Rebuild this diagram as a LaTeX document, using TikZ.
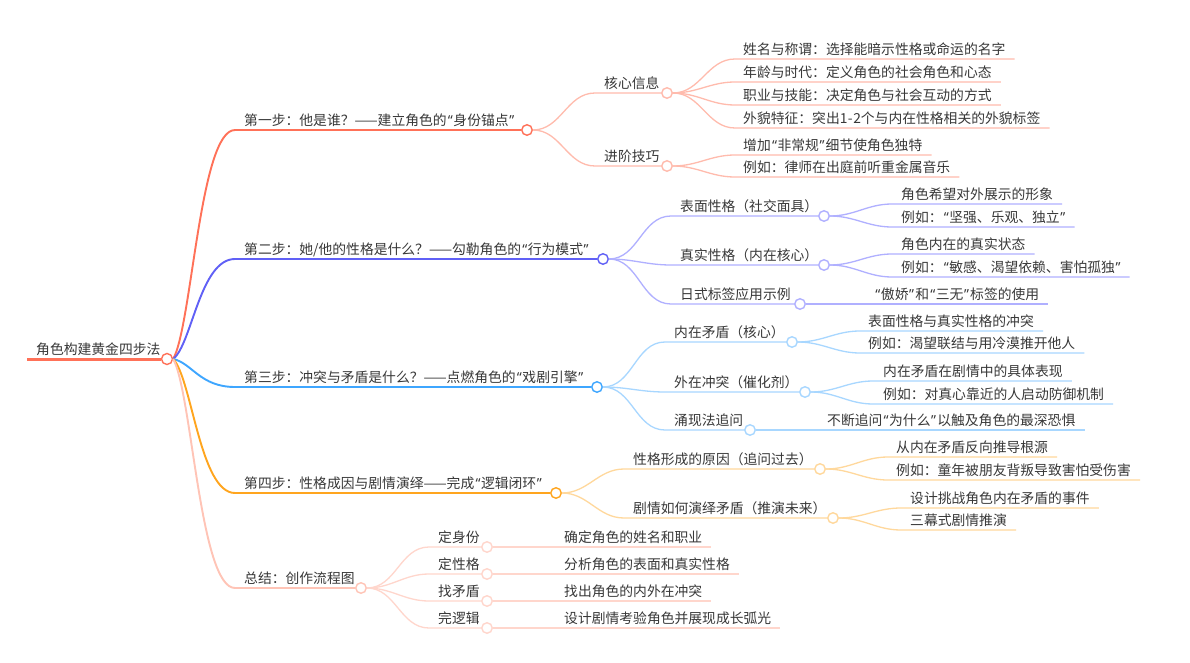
\documentclass[tikz,border=0pt]{standalone}
\usepackage{fontspec}
\setmainfont{Noto Sans CJK SC}
\newfontfamily\latinq{Noto Sans}
\newcommand\myoq{\hspace{1.2pt}{\latinq “}\hspace{0.6pt}}
\newcommand\mycq{\hspace{0.6pt}{\latinq ”}\hspace{1.2pt}}
\usetikzlibrary{calc}
\definecolor{c1}{HTML}{FF7158}
\definecolor{c1l}{HTML}{FFBBAD}
\definecolor{c2}{HTML}{6060F6}
\definecolor{c2l}{HTML}{B0B0FF}
\definecolor{c3}{HTML}{3EA6FF}
\definecolor{c3l}{HTML}{A8D7FF}
\definecolor{c4}{HTML}{FFA51E}
\definecolor{c4l}{HTML}{FFD89C}
\definecolor{c5}{HTML}{FFC4B6}
\definecolor{c5l}{HTML}{FFD6CC}
\definecolor{txt}{HTML}{383838}
\begin{document}
\begin{tikzpicture}[x=1pt,y=-1pt,
  lbl/.style={anchor=base west, inner sep=0, text=txt, font=\fontsize{13.8}{16}\selectfont},
  dot/.style={circle, draw=#1, fill=white, line width=1.4pt, minimum size=10.5pt, inner sep=0},
  main/.style={line width=1.9pt, draw=#1},
  sub/.style={line width=1.3pt, draw=#1},
  sc/.style={out=0, in=180, looseness=1}
]
\useasboundingbox[fill=white] (0,0) rectangle (1190,663);

% ---------- root ----------
\coordinate (r-s) at (27,359);
\node[lbl] (r-t) at (36,354.3) {角色构建黄金四步法};

% ---------- level 1 ----------
\coordinate (b1-s) at (235,130);
\coordinate (b2-s) at (235,259);
\coordinate (b3-s) at (235,387);
\coordinate (b4-s) at (235,493);
\coordinate (b5-s) at (235,588);
\node[lbl] (b1-t) at (244,125.3) {第一步：他是谁？——建立角色的\myoq 身份锚点\mycq};
\node[lbl] (b2-t) at (244,254.3) {第二步：她/他的性格是什么？——勾勒角色的\myoq 行为模式\mycq};
\node[lbl] (b3-t) at (244,382.3) {第三步：冲突与矛盾是什么？——点燃角色的\myoq 戏剧引擎\mycq};
\node[lbl] (b4-t) at (244,488.3) {第四步：性格成因与剧情演绎——完成\myoq 逻辑闭环\mycq};
\node[lbl] (b5-t) at (244,583.3) {总结：创作流程图};

% ---------- level 2 ----------
\coordinate (k1-s) at (595,93);
\coordinate (k2-s) at (595,166);
\node[lbl] (k1-t) at (604,88.3) {核心信息};
\node[lbl] (k2-t) at (604,161.3) {进阶技巧};
\coordinate (s1-s) at (671,216);
\coordinate (s2-s) at (671,265);
\coordinate (s3-s) at (671,304);
\node[lbl] (s1-t) at (680,211.3) {表面性格（社交面具）};
\node[lbl] (s2-t) at (680,260.3) {真实性格（内在核心）};
\node[lbl] (s3-t) at (680,299.3) {日式标签应用示例};
\coordinate (m1-s) at (665,342);
\coordinate (m2-s) at (665,392);
\coordinate (m3-s) at (665,430);
\node[lbl] (m1-t) at (674,337.3) {内在矛盾（核心）};
\node[lbl] (m2-t) at (674,387.3) {外在冲突（催化剂）};
\node[lbl] (m3-t) at (674,425.3) {涌现法追问};
\coordinate (f1-s) at (624,469);
\coordinate (f2-s) at (624,518);
\node[lbl] (f1-t) at (633,464.3) {性格形成的原因（追问过去）};
\node[lbl] (f2-t) at (633,513.3) {剧情如何演绎矛盾（推演未来）};
\coordinate (z1-s) at (429,547);
\coordinate (z2-s) at (429,574);
\coordinate (z3-s) at (429,601);
\coordinate (z4-s) at (429,628);
\node[lbl] (z1-t) at (438,542.3) {定身份};
\node[lbl] (z2-t) at (438,569.3) {定性格};
\node[lbl] (z3-t) at (438,596.3) {找矛盾};
\node[lbl] (z4-t) at (438,623.3) {完逻辑};

% ---------- leaves ----------
\coordinate (k1a-s) at (735,59);
\coordinate (k1b-s) at (735,82);
\coordinate (k1c-s) at (735,105);
\coordinate (k1d-s) at (735,128);
\node[lbl] (k1a) at (743,54.3) {姓名与称谓：选择能暗示性格或命运的名字};
\node[lbl] (k1b) at (743,77.3) {年龄与时代：定义角色的社会角色和心态};
\node[lbl] (k1c) at (743,100.3) {职业与技能：决定角色与社会互动的方式};
\node[lbl] (k1d) at (743,123.3) {外貌特征：突出1{\hspace{0.5pt}}-{\hspace{0.5pt}}2个与内在性格相关的外貌标签};
\coordinate (k2a-s) at (735,155);
\coordinate (k2b-s) at (735,177);
\node[lbl] (k2a) at (743,150.3) {增加\myoq 非常规\mycq 细节使角色独特};
\node[lbl] (k2b) at (743,172.3) {例如：律师在出庭前听重金属音乐};

\coordinate (s1a-s) at (892,204);
\coordinate (s1b-s) at (892,227);
\node[lbl] (s1a) at (901,199.3) {角色希望对外展示的形象};
\node[lbl] (s1b) at (901,222.3) {例如：\myoq 坚强、乐观、独立\mycq};
\coordinate (s2a-s) at (892,254);
\coordinate (s2b-s) at (892,277);
\node[lbl] (s2a) at (901,249.3) {角色内在的真实状态};
\node[lbl] (s2b) at (901,272.3) {例如：\myoq 敏感、渴望依赖、害怕孤独\mycq};
\node[lbl] (s3a) at (874,299.3) {\myoq 傲娇\mycq 和\myoq 三无\mycq 标签的使用};

\coordinate (m1a-s) at (860,331);
\coordinate (m1b-s) at (860,353);
\node[lbl] (m1a) at (868,326.3) {表面性格与真实性格的冲突};
\node[lbl] (m1b) at (868,348.3) {例如：渴望联结与用冷漠推开他人};
\coordinate (m2a-s) at (873,381);
\coordinate (m2b-s) at (873,404);
\node[lbl] (m2a) at (883,376.3) {内在矛盾在剧情中的具体表现};
\node[lbl] (m2b) at (883,399.3) {例如：对真心靠近的人启动防御机制};
\node[lbl] (m3a) at (827,425.3) {不断追问\myoq 为什么\mycq 以触及角色的最深恐惧};

\coordinate (f1a-s) at (888,457);
\coordinate (f1b-s) at (888,480);
\node[lbl] (f1a) at (896,452.3) {从内在矛盾反向推导根源};
\node[lbl] (f1b) at (896,475.3) {例如：童年被朋友背叛导致害怕受伤害};
\coordinate (f2a-s) at (901,508);
\coordinate (f2b-s) at (901,530);
\node[lbl] (f2a) at (910,503.3) {设计挑战角色内在矛盾的事件};
\node[lbl] (f2b) at (910,525.3) {三幕式剧情推演};

\node[lbl] (z1a) at (564,542.3) {确定角色的姓名和职业};
\node[lbl] (z2a) at (564,569.3) {分析角色的表面和真实性格};
\node[lbl] (z3a) at (564,596.3) {找出角色的内外在冲突};
\node[lbl] (z4a) at (564,623.3) {设计剧情考验角色并展现成长弧光};

% ---------- circles (nodes) ----------
\node[dot=c1, minimum size=11pt] (r) at (167,359) {};
\node[dot=c1] (b1) at (527,130) {};
\node[dot=c2] (b2) at (603,259) {};
\node[dot=c3] (b3) at (597,387) {};
\node[dot=c4] (b4) at (556,493) {};
\node[dot=c5] (b5) at (361,588) {};
\node[dot=c1l] (k1) at (667,93) {};
\node[dot=c1l] (k2) at (667,166) {};
\node[dot=c2l] (s1) at (824,216) {};
\node[dot=c2l] (s2) at (824,265) {};
\node[dot=c2l] (s3) at (800,304) {};
\node[dot=c3l] (m1) at (792,342) {};
\node[dot=c3l] (m2) at (805,392) {};
\node[dot=c3l] (m3) at (750,430) {};
\node[dot=c4l] (f1) at (820,469) {};
\node[dot=c4l] (f2) at (833,518) {};
\node[dot=c5l] (z1) at (487,547) {};
\node[dot=c5l] (z2) at (487,574) {};
\node[dot=c5l] (z3) at (487,601) {};
\node[dot=c5l] (z4) at (487,628) {};

% ---------- connectors ----------
\draw[c1, line width=3pt] (r-s) -- (r.west);
\draw[main=c1] (r.east) .. controls (192,325) and (200,130) .. (b1-s) -- (b1.west);
\draw[main=c2] (r.east) .. controls (192,344) and (200,259) .. (b2-s) -- (b2.west);
\draw[main=c3] (r.east) .. controls (192,363) and (200,387) .. (b3-s) -- (b3.west);
\draw[main=c4] (r.east) .. controls (192,379) and (200,493) .. (b4-s) -- (b4.west);
\draw[main=c5] (r.east) .. controls (192,393) and (200,588) .. (b5-s) -- (b5.west);

\draw[sub=c1l] (b1.east) to[sc] (k1-s) -- (k1.west);
\draw[sub=c1l] (b1.east) to[sc] (k2-s) -- (k2.west);
\draw[sub=c2l] (b2.east) to[sc] (s1-s) -- (s1.west);
\draw[sub=c2l] (b2.east) to[sc] (s2-s) -- (s2.west);
\draw[sub=c2l] (b2.east) to[sc] (s3-s) -- (s3.west);
\draw[sub=c3l] (b3.east) to[sc] (m1-s) -- (m1.west);
\draw[sub=c3l] (b3.east) to[sc] (m2-s) -- (m2.west);
\draw[sub=c3l] (b3.east) to[sc] (m3-s) -- (m3.west);
\draw[sub=c4l] (b4.east) to[sc] (f1-s) -- (f1.west);
\draw[sub=c4l] (b4.east) to[sc] (f2-s) -- (f2.west);
\draw[sub=c5l] (b5.east) to[sc] (z1-s) -- (z1.west);
\draw[sub=c5l] (b5.east) to[sc] (z2-s) -- (z2.west);
\draw[sub=c5l] (b5.east) to[sc] (z3-s) -- (z3.west);
\draw[sub=c5l] (b5.east) to[sc] (z4-s) -- (z4.west);

\foreach \p/\c/\list in {k1/c1l/{k1a,k1b,k1c,k1d}, k2/c1l/{k2a,k2b},
    s1/c2l/{s1a,s1b}, s2/c2l/{s2a,s2b}, m1/c3l/{m1a,m1b}, m2/c3l/{m2a,m2b},
    f1/c4l/{f1a,f1b}, f2/c4l/{f2a,f2b}} {
  \foreach \l in \list {
    \draw[sub=\c] (\p.east) to[sc] (\l-s) -- (\l.east |- \l-s) -- ++(9,0);
  }
}
\foreach \p/\l/\c in {s3/s3a/c2l, m3/m3a/c3l, z1/z1a/c5l, z2/z2a/c5l, z3/z3a/c5l, z4/z4a/c5l} {
  \draw[sub=\c] (\p.east) -- (\l.east |- \p.east) -- ++(9,0);
}
\end{tikzpicture}
\end{document}
